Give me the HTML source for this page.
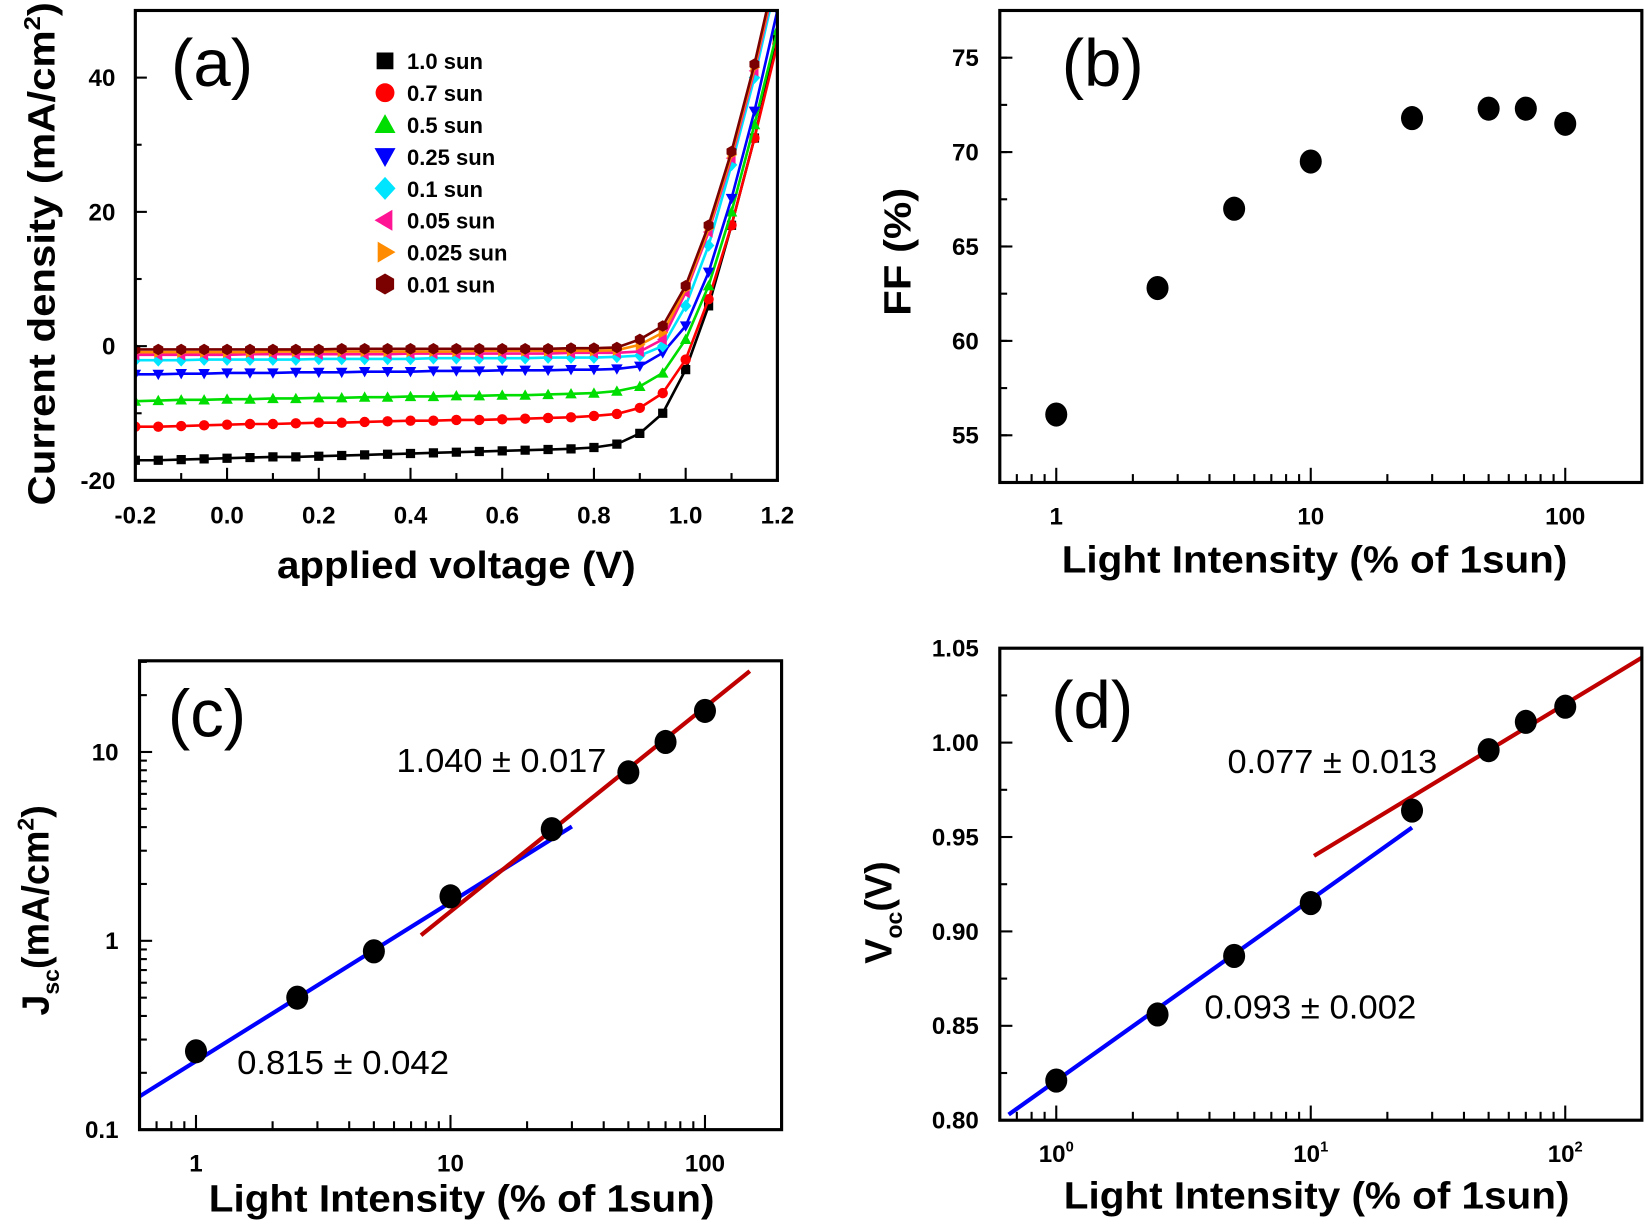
<!DOCTYPE html>
<html><head><meta charset="utf-8"><style>
html,body{margin:0;padding:0;background:#fff}
svg{display:block}
text{font-family:"Liberation Sans",Arial,sans-serif}
.tk{font-size:23px;font-weight:bold}
.ti{font-size:36px;font-weight:bold}
.pl{font-size:64px}
.fit{font-size:32px}
.lg{font-size:21px;font-weight:bold}
</style></head><body>
<svg id="fig" width="1645" height="1223" viewBox="0 0 1568 1166" preserveAspectRatio="none" xmlns="http://www.w3.org/2000/svg"></svg>
<script>
// ---- Panel (a) data ----
const voltages = [-0.2,-0.15,-0.1,-0.05,0,0.05,0.1,0.15,0.2,0.25,0.3,0.35,0.4,0.45,0.5,0.55,0.6,0.65,0.7,0.75,0.8,0.85,0.9,0.95,1.0,1.05,1.1,1.15,1.2];
const seriesNames = ["1.0  sun","0.7  sun","0.5  sun","0.25 sun","0.1   sun","0.05  sun","0.025 sun","0.01 sun"];
const seriesColors = ["#000000","#ff0000","#00dd00","#0000ff","#00e5ff","#ff1493","#ff8c00","#7b0000"];
const j10 = [-17,-17,-16.9,-16.8,-16.7,-16.6,-16.5,-16.5,-16.4,-16.3,-16.2,-16.1,-16,-15.9,-15.8,-15.7,-15.6,-15.5,-15.4,-15.3,-15.1,-14.6,-13,-10,-3.5,6,18,31,46];
const j07 = [-12,-12,-11.9,-11.8,-11.7,-11.6,-11.6,-11.5,-11.4,-11.4,-11.3,-11.2,-11.1,-11.1,-11,-11,-10.9,-10.8,-10.7,-10.6,-10.4,-10.1,-9.2,-7,-2,7,18,31,45];
const j05 = [-8.2,-8.1,-8,-8,-7.9,-7.9,-7.8,-7.8,-7.7,-7.7,-7.6,-7.6,-7.5,-7.5,-7.4,-7.4,-7.3,-7.3,-7.2,-7.1,-7,-6.7,-6,-4,1,9,20,33,47];
const j025 = [-4.2,-4.2,-4.1,-4.1,-4,-4,-4,-3.9,-3.9,-3.9,-3.8,-3.8,-3.8,-3.7,-3.7,-3.7,-3.6,-3.6,-3.6,-3.5,-3.5,-3.4,-3,-1,3,11,22,35,50];
const j01 = [-2.1,-2.1,-2.1,-2,-2,-2,-2,-2,-1.9,-1.9,-1.9,-1.9,-1.9,-1.8,-1.8,-1.8,-1.8,-1.8,-1.7,-1.7,-1.7,-1.6,-1.4,0,6,15,27,40,55];
const j005 = [-1.3,-1.3,-1.3,-1.3,-1.3,-1.2,-1.2,-1.2,-1.2,-1.2,-1.2,-1.2,-1.1,-1.1,-1.1,-1.1,-1.1,-1.1,-1.1,-1,-1,-1,-0.8,1,8,17,28,41,56];
const j0025 = [-0.9,-0.9,-0.9,-0.9,-0.9,-0.9,-0.8,-0.8,-0.8,-0.8,-0.8,-0.8,-0.8,-0.8,-0.8,-0.7,-0.7,-0.7,-0.7,-0.7,-0.7,-0.6,0.2,2,8.5,17.5,28.5,41.5,56.5];
const j001 = [-0.5,-0.5,-0.5,-0.5,-0.5,-0.5,-0.5,-0.5,-0.5,-0.4,-0.4,-0.4,-0.4,-0.4,-0.4,-0.4,-0.4,-0.4,-0.4,-0.3,-0.3,-0.2,1,3,9,18,29,42,57];
const jSeries = [j10,j07,j05,j025,j01,j005,j0025,j001];
const aXTicks = [-0.2,0,0.2,0.4,0.6,0.8,1.0,1.2];
const aXTickLabels = ["-0.2","0.0","0.2","0.4","0.6","0.8","1.0","1.2"];
const aYTicks = [-20,0,20,40];
// ---- Panels (b)(c)(d) data ----
const intensity = [1,2.5,5,10,25,50,70,100];
const ffValues = [56.1,62.8,67,69.5,71.8,72.3,72.3,71.5];
const jscValues = [0.26,0.5,0.88,1.72,3.9,7.8,11.3,16.5];
const vocValues = [0.821,0.856,0.887,0.915,0.964,0.996,1.011,1.019];
const jscFitLow = [[0.6,0.15],[30,4.03]];
const jscFitHigh = [[7.66,1.07],[150,26.8]];
const vocFitLow = [[0.65,0.803],[25,0.955]];
const vocFitHigh = [[10.3,0.94],[200,1.045]];
const bYTicks = [55,60,65,70,75];
const dYTicks = [0.80,0.85,0.90,0.95,1.00,1.05];
const dYTickLabels = ["0.80","0.85","0.90","0.95","1.00","1.05"];

const NS="http://www.w3.org/2000/svg";
const svg=document.getElementById('fig');
function mk(tag,attrs,parent,txt){const e=document.createElementNS(NS,tag);for(const k in attrs)e.setAttribute(k,attrs[k]);if(txt!==undefined)e.textContent=txt;(parent||svg).appendChild(e);return e;}
function lin(d0,d1,p0,p1){return v=>p0+(v-d0)/(d1-d0)*(p1-p0);}
function logs(d0,d1,p0,p1){return v=>p0+(Math.log10(v)-Math.log10(d0))/(Math.log10(d1)-Math.log10(d0))*(p1-p0);}
const shapes=['square','circle','up','down','diamond','left','right','hex'];
function marker(s,x,y,r,c,parent){
  let p;
  if(s==='circle')return mk('circle',{cx:x,cy:y,r:r*0.9,fill:c},parent);
  if(s==='square')p=`${x-r*0.8},${y-r*0.8} ${x+r*0.8},${y-r*0.8} ${x+r*0.8},${y+r*0.8} ${x-r*0.8},${y+r*0.8}`;
  else if(s==='up')p=`${x},${y-r} ${x+r},${y+r*0.8} ${x-r},${y+r*0.8}`;
  else if(s==='down')p=`${x-r},${y-r*0.8} ${x+r},${y-r*0.8} ${x},${y+r}`;
  else if(s==='diamond')p=`${x},${y-r*1.1} ${x+r},${y} ${x},${y+r*1.1} ${x-r},${y}`;
  else if(s==='left')p=`${x-r},${y} ${x+r*0.7},${y-r} ${x+r*0.7},${y+r}`;
  else if(s==='right')p=`${x+r},${y} ${x-r*0.7},${y-r} ${x-r*0.7},${y+r}`;
  else {p=[];for(let k=0;k<6;k++){const a=Math.PI/6+k*Math.PI/3;p.push((x+r*Math.cos(a))+','+(y+r*Math.sin(a)));}p=p.join(' ');}
  return mk('polygon',{points:p,fill:c},parent);
}

// ===== Panel (a) =====
const ax=lin(-0.2,1.2,129,741), ay=lin(-20,50,458,10);
const ga=mk('g',{});
mk('clipPath',{id:'ca'},ga);mk('rect',{x:129,y:10,width:612,height:448},document.getElementById('ca'));
jSeries.forEach((s,i)=>{
  const g=mk('g',{'clip-path':'url(#ca)'},ga);
  
  
  mk('polyline',{points:voltages.map((v,k)=>ax(v)+','+ay(s[k])).join(' '),fill:'none',stroke:seriesColors[i],'stroke-width':2.5},g);
  voltages.forEach((v,k)=>{
    const m=marker(shapes[i],ax(v),ay(s[k]),5.5,seriesColors[i],g);
    
    
  });
});
mk('rect',{x:129,y:10,width:612,height:448,fill:'none',stroke:'#000','stroke-width':3},ga);
for(let v=-0.2;v<=1.201;v+=0.1){const x=ax(v);mk('line',{x1:x,y1:458,x2:x,y2:(Math.round(v*10)%2===0?446:451),stroke:'#000','stroke-width':2},ga);}
aXTicks.forEach((v,i)=>{const t=mk('text',{x:ax(v),y:499,'text-anchor':'middle',class:'tk'},ga,aXTickLabels[i]);});
for(let v=-20;v<=50;v+=10){mk('line',{x1:129,y1:ay(v),x2:v%20===0?140:135,y2:ay(v),stroke:'#000','stroke-width':2},ga);}
aYTicks.forEach(v=>{const t=mk('text',{x:110,y:ay(v)+8,'text-anchor':'end',class:'tk'},ga,String(v));});
let t=mk('text',{x:435,y:551,'text-anchor':'middle',class:'ti',textLength:342,lengthAdjust:'spacingAndGlyphs'},ga,'applied voltage (V)');
t=mk('text',{x:0,y:0,'text-anchor':'middle',class:'ti',transform:'translate(52,242) rotate(-90)',textLength:480,lengthAdjust:'spacingAndGlyphs'},ga);
t.innerHTML='Current density (mA/cm<tspan dy="-14" font-size="22">2</tspan><tspan dy="14">)</tspan>';
t=mk('text',{x:163,y:82,class:'pl'},ga,'(a)');
seriesNames.forEach((n,i)=>{
  const y=58+i*30.4,x=367,g=mk('g',{},ga);
  
  
  marker(shapes[i],x,y,10,seriesColors[i],g);
  mk('text',{x:388,y:y+8,class:'lg','xml:space':'preserve'},g,n);
});

// ===== generic log-x panel =====
function logPanel(name,label,box,yscale,yticks,ylabels,vals,fits,labelPos,xlabelsSup){
  const g=mk('g',{});
  const [L,T,R,B]=box;const sx=logs(0.6,200,L,R);
  const cid='c'+name;mk('clipPath',{id:cid},g);mk('rect',{x:L,y:T,width:R-L,height:B-T},document.getElementById(cid));
  (fits||[]).forEach((f,i)=>{const l=mk('line',{x1:sx(f[0][0]),y1:yscale(f[0][1]),x2:sx(f[1][0]),y2:yscale(f[1][1]),stroke:i===0?'#0000ff':'#c00000','stroke-width':4,'clip-path':'url(#'+cid+')'},g);});
  intensity.forEach((x,i)=>{const c=mk('ellipse',{cx:sx(x),cy:yscale(vals[i]),rx:10.5,ry:11.5,fill:'#000'},g);});
  mk('rect',{x:L,y:T,width:R-L,height:B-T,fill:'none',stroke:'#000','stroke-width':3},g);
  [0.6,0.7,0.8,0.9,1,2,3,4,5,6,7,8,9,10,20,30,40,50,60,70,80,90,100,200].forEach(v=>{const x=sx(v);const maj=[1,10,100].includes(v);mk('line',{x1:x,y1:B,x2:x,y2:B-(maj?14:8),stroke:'#000','stroke-width':2},g);});
  [1,10,100].forEach((v,i)=>{let tt;if(xlabelsSup){tt=mk('text',{x:sx(v),y:B+40,'text-anchor':'middle',class:'tk','font-weight':'normal'},g);tt.innerHTML='10<tspan dy="-10" font-size="14">'+i+'</tspan>';}else tt=mk('text',{x:sx(v),y:B+40,'text-anchor':'middle',class:'tk'},g,String(v));});
  yticks.forEach((v,i)=>{const yy=yscale(v);mk('line',{x1:L,y1:yy,x2:L+12,y2:yy,stroke:'#000','stroke-width':2},g);const tt=mk('text',{x:L-20,y:yy+8,'text-anchor':'end',class:'tk'},g,ylabels[i]);});
  const tt=mk('text',{x:labelPos[0],y:labelPos[1],class:'pl'},g,label);
  return {g,sx};
}
const xtAttrs={'text-anchor':'middle',class:'ti',textLength:482,lengthAdjust:'spacingAndGlyphs'};
// (b)
const by=lin(52.5,77.5,460,10);
const pb=logPanel('panel-b','(b)',[953,10,1565,460],by,bYTicks,bYTicks.map(String),ffValues,null,[1012,82],false);
for(let v=52.5;v<=77.5;v+=2.5)mk('line',{x1:953,y1:by(v),x2:960,y2:by(v),stroke:'#000','stroke-width':2},pb.g);
t=mk('text',Object.assign({x:1253,y:546},xtAttrs),pb.g,'Light Intensity (% of 1sun)');
t=mk('text',{x:0,y:0,'text-anchor':'middle',class:'ti',transform:'translate(868,240) rotate(-90)',textLength:122,lengthAdjust:'spacingAndGlyphs'},pb.g,'FF (%)');
// (c)
const cy=logs(0.1,30.4,1077,630);
const pc=logPanel('panel-c','(c)',[133,630,745,1077],cy,[0.1,1,10],['0.1','1','10'],jscValues,[jscFitLow,jscFitHigh],[160,702],false);
[0.2,0.3,0.4,0.5,0.6,0.7,0.8,0.9,2,3,4,5,6,7,8,9,20,30].forEach(v=>mk('line',{x1:133,y1:cy(v),x2:140,y2:cy(v),stroke:'#000','stroke-width':2},pc.g));
t=mk('text',{x:478,y:736,'text-anchor':'middle',class:'fit',textLength:200,lengthAdjust:'spacingAndGlyphs'},pc.g,'1.040 ± 0.017');
t=mk('text',{x:327,y:1024,'text-anchor':'middle',class:'fit',textLength:202,lengthAdjust:'spacingAndGlyphs'},pc.g,'0.815 ± 0.042');
t=mk('text',Object.assign({x:440,y:1155},xtAttrs),pc.g,'Light Intensity (% of 1sun)');
t=mk('text',{x:0,y:0,'text-anchor':'middle',class:'ti',transform:'translate(46,868) rotate(-90)'},pc.g);
t.innerHTML='J<tspan dy="10" font-size="22">sc</tspan><tspan dy="-10">(mA/cm</tspan><tspan dy="-14" font-size="22">2</tspan><tspan dy="14">)</tspan>';
// (d)
const dy=lin(0.8,1.05,1068,618);
const pd=logPanel('panel-d','(d)',[953,618,1565,1068],dy,dYTicks,dYTickLabels,vocValues,[vocFitLow,vocFitHigh],[1002,694],true);
[0.825,0.875,0.925,0.975,1.025].forEach(v=>mk('line',{x1:953,y1:dy(v),x2:960,y2:dy(v),stroke:'#000','stroke-width':2},pd.g));
t=mk('text',{x:1270,y:737,'text-anchor':'middle',class:'fit',textLength:200,lengthAdjust:'spacingAndGlyphs'},pd.g,'0.077 ± 0.013');
t=mk('text',{x:1249,y:971,'text-anchor':'middle',class:'fit',textLength:202,lengthAdjust:'spacingAndGlyphs'},pd.g,'0.093 ± 0.002');
t=mk('text',Object.assign({x:1255,y:1152},xtAttrs),pd.g,'Light Intensity (% of 1sun)');
t=mk('text',{x:0,y:0,'text-anchor':'middle',class:'ti',transform:'translate(850,870) rotate(-90)'},pd.g);
t.innerHTML='V<tspan dy="10" font-size="22">oc</tspan><tspan dy="-10">(V)</tspan>';
</script>
</body></html>
